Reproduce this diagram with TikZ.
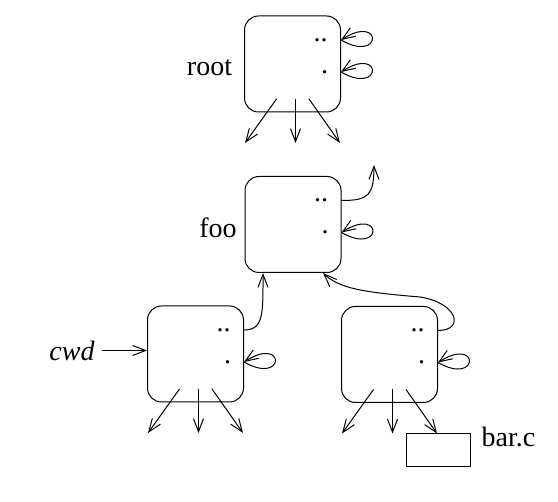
\documentclass[tikz,border=0pt]{standalone}
\usepackage{fontspec}
\setmainfont{Liberation Serif}
\usetikzlibrary{arrows.meta,bending}

\begin{document}
\begin{tikzpicture}[x=0.5pt,y=-0.5pt,line width=0.5pt,
  dir/.style={draw,rounded corners=7pt,minimum size=48pt,inner sep=0pt},
  arr/.style={-{Straight Barb[length=6.5pt,width=5pt]}},
  lbl/.style={font=\fontsize{14}{17}\selectfont},
  dot/.style={font=\fontsize{14}{17}\selectfont,inner sep=0pt}]
\useasboundingbox (0,0) rectangle (558,502);
% directories
\node[dir] (root) at (292.5,64) {};
\node[dir] (foo) at (293,224.5) {};
\node[dir] (cwdbox) at (195.5,354) {};
\node[dir] (sub) at (389.5,354.5) {};
\node[draw,minimum width=32pt,minimum height=16.5pt,inner sep=0pt] (barc) at (438,450.5) {};
% names
\node[lbl] (rootname) at (209.5,68) {root};
\node[lbl] (fooname) at (218,228) {foo};
\node[lbl,font=\fontsize{14}{17}\selectfont\itshape] (cwd) at (72,350.5) {cwd};
\node[lbl] (barname) at (508.5,437) {bar.c};
% entries
\foreach \b in {root,foo,cwdbox,sub}{
  \node[dot] (\b2) at ([shift={(28,-24)}]\b.center) {..};
  \node[dot] (\b1) at ([shift={(32,8)}]\b.center) {.};
  \draw[arr] (\b.east |- \b1) .. controls +(42,24) and +(42,-28) .. (\b.east |- \b1);
}
\draw[arr] (root.east |- root2) .. controls +(42,24) and +(42,-28) .. (root.east |- root2);
\foreach \b in {root,cwdbox,sub}
  \foreach \s/\e in {-16/-47.5,3/3,16.5/47.5}
    \draw[arr] ([shift={(\s,35)}]\b.center) -- ([shift={(\e,79)}]\b.center);
% links
\coordinate (fooup) at (374,165);
\draw[arr] (foo.east |- foo2) .. controls +(28,0) and +(0,30) .. (fooup);
\draw[arr] (cwdbox.east |- cwdbox2) .. controls +(20,0) and +(0,40) .. ([shift={(-30,0)}]foo.south);
\draw[arr] (sub.east |- sub2) .. controls +(27,0) and +(38,6) .. (420,297)
  .. controls +(-60,-5) and +(15,15) .. ([shift={(30,0)}]foo.south);
\draw[arr] (cwd) -- (cwdbox.west |- cwd);
\end{tikzpicture}
\end{document}
